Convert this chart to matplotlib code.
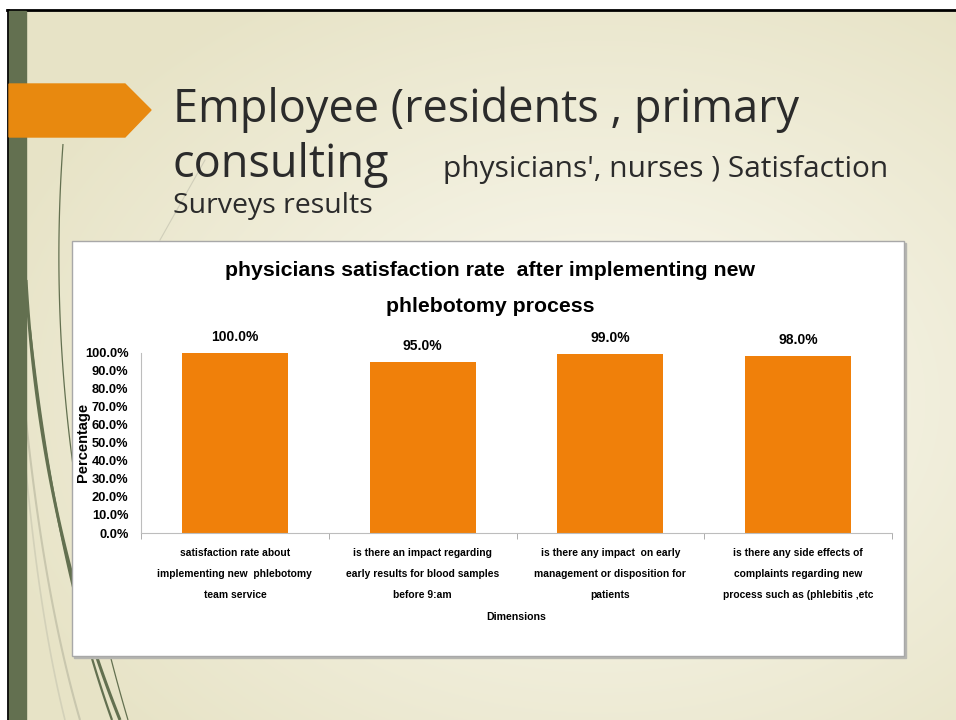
import numpy as np
import matplotlib
matplotlib.use("Agg")
import matplotlib.pyplot as plt
from matplotlib.patches import Rectangle, Polygon
from matplotlib.ticker import FuncFormatter

# data
categories = [
    "satisfaction rate about\nimplementing new  phlebotomy\nteam service",
    "is there an impact regarding\nearly results for blood samples\nbefore 9:am",
    "is there any impact  on early\nmanagement or disposition for\npatients",
    "is there any side effects of\ncomplaints regarding new\nprocess such as (phlebitis ,etc",
]
rates = [1.00, 0.95, 0.99, 0.98]
yticks = [i / 10 for i in range(11)]

narrow = ["Liberation Sans", "DejaVu Sans"]
slide_font = ["Open Sans", "DejaVu Sans"]
orange_bar = "#F0800A"
green = "#637050"

fig = plt.figure(figsize=(9.56, 7.2), dpi=100)

# slide background in pixel coordinates
bg = fig.add_axes([0, 0, 1, 1])
bg.set_xlim(0, 956)
bg.set_ylim(720, 0)
bg.axis("off")

yy, xx = np.mgrid[0:720, 0:956]
d = np.sqrt(((xx - 600) / 650.0) ** 2 + ((yy - 400) / 480.0) ** 2)
d = np.clip(d, 0, 1)[..., None]
centre = np.array([251, 250, 242]) / 255
edge = np.array([231, 227, 198]) / 255
img = centre * (1 - d) + edge * d
bg.imshow(img, extent=(0, 956, 720, 0), aspect="auto", zorder=0)

bg.add_patch(Rectangle((0, 0), 956, 9, color="white", zorder=1))
bg.add_patch(Rectangle((0, 0), 7, 720, color="white", zorder=1))
bg.plot([7, 956], [10, 10], color="black", lw=2, zorder=2)
bg.plot([8, 8], [10, 720], color="black", lw=2, zorder=2)
bg.add_patch(Rectangle((9, 11), 17, 709, color=green, zorder=2))

# decorative strands on the left
t = np.linspace(0, 1, 100)
def strand(p0, p1, p2, **kw):
    x = (1 - t) ** 2 * p0[0] + 2 * (1 - t) * t * p1[0] + t ** 2 * p2[0]
    y = (1 - t) ** 2 * p0[1] + 2 * (1 - t) * t * p1[1] + t ** 2 * p2[1]
    bg.plot(x, y, zorder=1.5, solid_capstyle="butt", **kw)

strand((63, 144), (42, 430), (128, 720), color=green, lw=0.9)
strand((26, 280), (40, 520), (120, 720), color=green, lw=2.2)
strand((30, 330), (55, 560), (112, 720), color=green, lw=1.6)
strand((26, 420), (45, 600), (80, 720), color="#C9C7AE", lw=1.5)
strand((26, 470), (40, 620), (65, 720), color="#D3D1B9", lw=1.2)
bg.plot([205, 160], [160, 240], color="#D0CEBA", lw=0.8, zorder=1.5)

# orange arrow
bg.add_patch(Polygon([(9, 84), (125, 84), (151, 110), (125, 137), (9, 137)],
                     closed=True, color="#E8890F", zorder=3))

# slide title
tc = "#2B2B2B"
bg.text(173, 122, "Employee (residents , primary", fontsize=32.5, family=slide_font,
        color=tc, va="baseline", zorder=3)
bg.text(173, 177, "consulting", fontsize=32.5, family=slide_font,
        color=tc, va="baseline", zorder=3)
bg.text(443, 177, "physicians', nurses ) Satisfaction", fontsize=21.5,
        family=slide_font, color=tc, va="baseline", zorder=3)
bg.text(173, 213, "Surveys results", fontsize=20.5, family=slide_font,
        color=tc, va="baseline", zorder=3)

# chart frame
bg.add_patch(Rectangle((74, 243), 832, 415, color="#B5B5B0", zorder=3))
bg.add_patch(Rectangle((72, 241), 832, 415, facecolor="white",
                       edgecolor="#A8A8A8", lw=1, zorder=4))
bg.text(490, 271, "physicians satisfaction rate  after implementing new",
        fontsize=15.3, family=narrow, weight="bold", ha="center", va="center", zorder=5)
bg.text(490, 306, "phlebotomy process", fontsize=15.3, family=narrow,
        weight="bold", ha="center", va="center", zorder=5)

# bar chart
ax = fig.add_axes([141 / 956, (720 - 533) / 720, (892 - 141) / 956, (533 - 352.5) / 720])
ax.set_zorder(6)
ax.patch.set_alpha(0)
x = np.arange(len(rates))
ax.bar(x, rates, width=0.565, color=orange_bar)
for xi, v in zip(x, rates):
    ax.annotate(f"{v * 100:.1f}%", (xi, v), xytext=(0, 11.5), textcoords="offset points",
                ha="center", va="center", fontsize=10, family=narrow, weight="bold")

ax.set_xlim(-0.5, len(rates) - 0.5)
ax.set_ylim(0, 1)
ax.set_yticks(yticks)
ax.yaxis.set_major_formatter(FuncFormatter(lambda v, p: f"{v * 100:.1f}%"))
ax.set_xticks(x)
ax.set_xticklabels(categories, fontsize=7.4, family=narrow, weight="bold", linespacing=2.35)
ax.set_xticks(np.arange(len(rates) + 1) - 0.5, minor=True)
ax.tick_params(axis="x", which="major", length=0, pad=11)
ax.tick_params(axis="x", which="minor", length=4, color="#A0A0A0", direction="out")
ax.tick_params(axis="y", length=0, pad=9)
for lab in ax.get_yticklabels():
    lab.set_fontsize(9.3)
    lab.set_family(narrow)
    lab.set_weight("bold")
for s in ["top", "right"]:
    ax.spines[s].set_visible(False)
for s in ["left", "bottom"]:
    ax.spines[s].set_color("#BDBDBD")
ax.set_ylabel("Percentage", fontsize=10.5, family=narrow, weight="bold", labelpad=-4)
ax.set_xlabel("Dimensions", fontsize=7.6, family=narrow, weight="bold", labelpad=9)

fig.savefig("out.png", dpi=100)
